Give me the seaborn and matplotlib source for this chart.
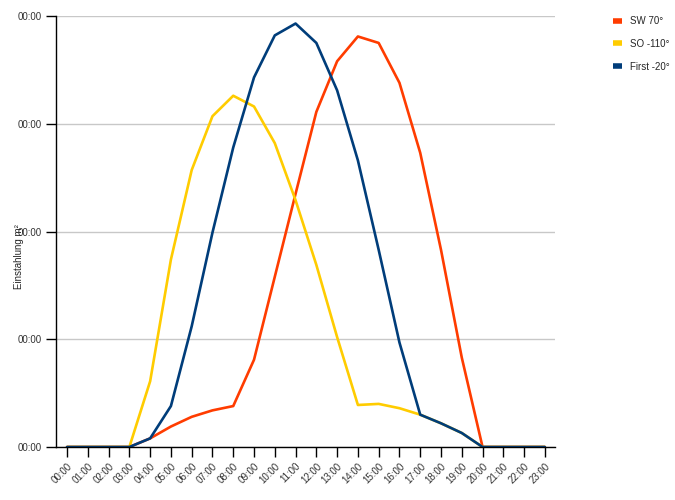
import numpy as np
import pandas as pd
import seaborn as sns
import matplotlib.pyplot as plt

# Stunden und Werte
hours = ['%02d:00' % h for h in range(24)]
sw_70 = [0, 0, 0, 0, 0.08, 0.19, 0.28, 0.34, 0.38, 0.81, 1.58, 2.35,
         3.11, 3.58, 3.81, 3.75, 3.38, 2.73, 1.83, 0.83, 0, 0, 0, 0]
so_110 = [0, 0, 0, 0, 0.61, 1.74, 2.57, 3.07, 3.26, 3.16, 2.82, 2.29,
          1.69, 1.02, 0.39, 0.40, 0.36, 0.30, 0.22, 0.13, 0, 0, 0, 0]
first_20 = [0, 0, 0, 0, 0.08, 0.38, 1.12, 1.99, 2.78, 3.43, 3.82, 3.93,
            3.75, 3.31, 2.66, 1.83, 0.97, 0.30, 0.22, 0.13, 0, 0, 0, 0]
series_names = ['SW 70°', 'SO -110°', 'First -20°']
colors = ['#ff3c00', '#ffcc00', '#003d7a']
y_ticks = [0, 1, 2, 3, 4]
y_labels = ['00:00', '00:00', '00:00', '00:00', '00:00']

df = pd.DataFrame({'idx': list(range(24)) * 3,
                   'wert': sw_70 + so_110 + first_20,
                   'serie': np.repeat(series_names, 24)})

sns.set_style('white')
plt.rcParams['font.family'] = ['Liberation Sans', 'DejaVu Sans']

fig = plt.figure(figsize=(6.75, 5), dpi=100)
ax = fig.add_axes([0.083, 0.106, 0.739, 0.862])

sns.lineplot(data=df, x='idx', y='wert', hue='serie', hue_order=series_names,
             palette=colors, linewidth=1.9, legend=False, ax=ax)

ax.set_xlim(-0.53, 23.48)
ax.set_ylim(0, 4)
ax.set_xticks(range(24))
ax.set_xticklabels(hours, rotation=45, ha='right', rotation_mode='anchor', fontsize=7, color='#333333')
ax.set_yticks(y_ticks)
ax.set_yticklabels(y_labels, fontsize=7, color='#333333')
ax.tick_params(axis='both', length=7, width=1, color='black', direction='out', left=True, bottom=True)
ax.tick_params(axis='x', pad=3)
ax.grid(axis='y', color='#c8c8c8', linewidth=1)
ax.set_axisbelow(True)
for s in ['top', 'right']:
    ax.spines[s].set_visible(False)
for s in ['left', 'bottom']:
    ax.spines[s].set_color('black')
    ax.spines[s].set_linewidth(1)
ax.set_xlabel('')
ax.set_ylabel('Einstahlung m²', fontsize=7)
ax.yaxis.set_label_coords(-0.064, 0.443)

handles = [plt.Line2D([], [], color=c, linewidth=4, solid_capstyle='butt') for c in colors]
fig.legend(handles, series_names, loc='upper left', bbox_to_anchor=(0.895, 0.985),
           frameon=False, fontsize=7, handlelength=0.9, handletextpad=0.9, labelspacing=1.3)

fig.savefig('out.png', dpi=100)
